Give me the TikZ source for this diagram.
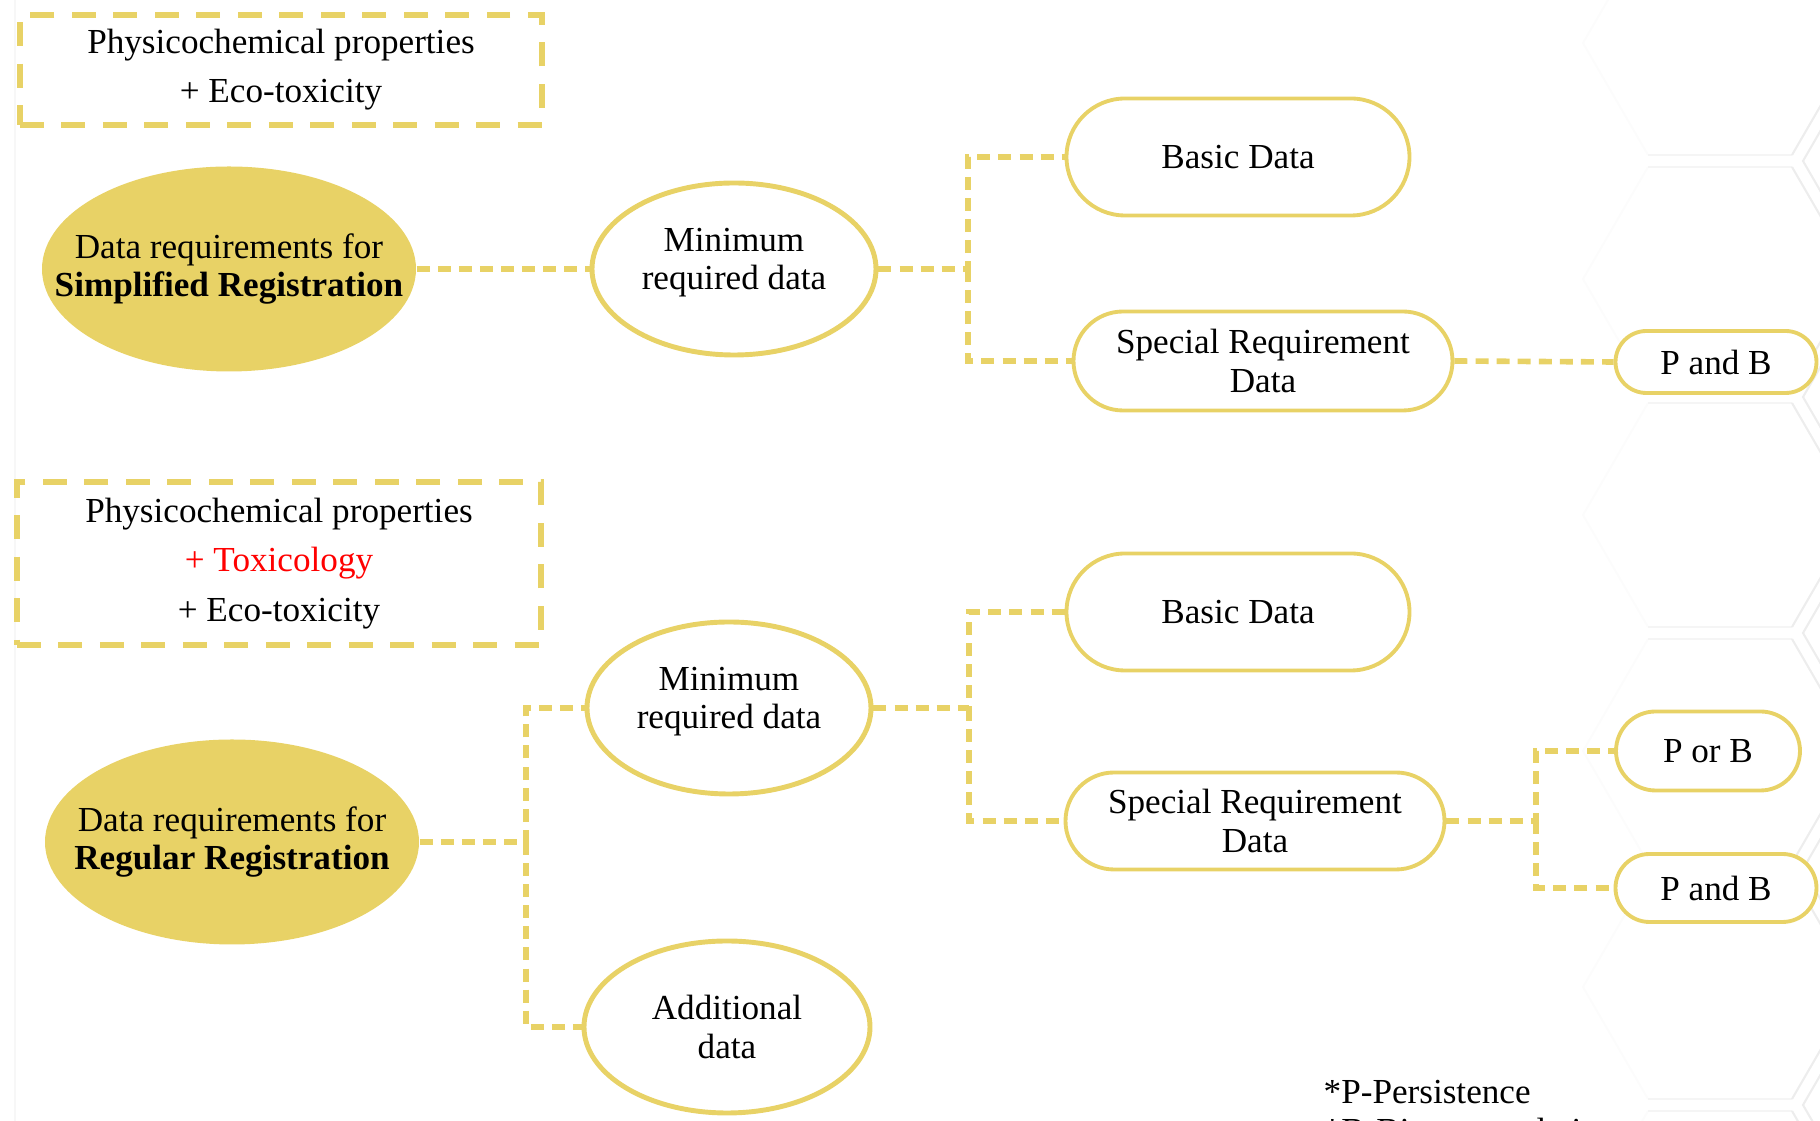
\documentclass[tikz,border=0pt]{standalone}
\usepackage{fontspec}
\setmainfont{Liberation Serif}
\usetikzlibrary{shapes.geometric,shapes.misc}
\definecolor{regyellow}{RGB}{232,210,102}

\begin{document}
\begin{tikzpicture}[
    font=\fontsize{10pt}{11pt}\selectfont,
    regnode/.style={ellipse,fill=regyellow,inner xsep=-0.5cm,inner ysep=0pt,align=center,
      minimum width=3.74cm,minimum height=2.05cm},
    dataoval/.style={ellipse,draw=regyellow,line width=1.4pt,fill=white,
      inner sep=0pt,align=center,minimum width=2.84cm,minimum height=1.72cm},
    pill/.style={rounded rectangle,draw=regyellow,line width=1.1pt,fill=white,
      inner sep=0pt,align=center},
    notebox/.style={draw=regyellow,line width=1.7pt,dash pattern=on 6.8pt off 5pt,
      inner sep=0pt,align=center,font=\fontsize{10pt}{14pt}\selectfont},
    link/.style={draw=regyellow,line width=1.6pt,dash pattern=on 3.7pt off 2.3pt},
    hexline/.style={line width=0.6pt}
  ]
    % Page
    \useasboundingbox (0,0) rectangle (18.2,-11.21);
    \draw[gray!6] (0.15,0) -- (0.15,-11.21);

    % Hexagon background
    \foreach \cy in {0.43,2.79,5.15,7.51,9.87,12.23} {
      \draw[hexline,gray!2] (16.48,-\cy+1.12) -- ++(-0.65,-1.12) -- ++(0.65,-1.12);
      \draw[hexline,gray!8] (16.48,-\cy+1.12) -- ++(1.44,0);
      \draw[hexline,gray!8] (16.48,-\cy-1.12) -- ++(1.44,0);
      \draw[hexline,gray!14] (17.92,-\cy+1.12) -- ++(0.65,-1.12) -- ++(-0.65,-1.12);
    }
    \foreach \cy in {-0.75,1.61,3.97,6.33,8.69,11.05} {
      \draw[hexline,gray!14] (18.68,-\cy+1.12) -- ++(-0.65,-1.12) -- ++(0.65,-1.12);
    }

    % Upper branch
    \node[notebox,minimum width=5.22cm,minimum height=1.10cm] (propsA) at (2.81,-0.70)
      {Physicochemical properties\\+ Eco-toxicity};
    \node[regnode] (regA) at (2.29,-2.69)
      {Data requirements for\\\textbf{Simplified Registration}};
    \node[dataoval,text depth=0.2cm] (minA) at (7.34,-2.69) {Minimum\\required data};
    \node[pill,minimum width=3.43cm,minimum height=1.17cm] (basicA) at (12.38,-1.57) {Basic Data};
    \node[pill,minimum width=3.79cm,minimum height=0.99cm] (specA) at (12.63,-3.61)
      {Special Requirement\\Data};
    \node[pill,minimum width=2.01cm,minimum height=0.62cm] (pbA) at (17.16,-3.62) {P and B};

    % Lower branch
    \node[notebox,minimum width=5.24cm,minimum height=1.63cm] (propsB) at (2.79,-5.635)
      {Physicochemical properties\\\textcolor{red}{+ Toxicology}\\+ Eco-toxicity};
    \node[regnode] (regB) at (2.32,-8.42)
      {Data requirements for\\\textbf{Regular Registration}};
    \node[dataoval,text depth=0.2cm] (minB) at (7.29,-7.08) {Minimum\\required data};
    \node[dataoval,minimum width=2.86cm] (addB) at (7.27,-10.27) {Additional\\data};
    \node[pill,minimum width=3.43cm,minimum height=1.17cm] (basicB) at (12.38,-6.12) {Basic Data};
    \node[pill,minimum width=3.79cm,minimum height=0.97cm] (specB) at (12.55,-8.21)
      {Special Requirement\\Data};
    \node[pill,minimum width=1.84cm,minimum height=0.79cm] (porB) at (17.08,-7.51) {P or B};
    \node[pill,minimum width=2.01cm,minimum height=0.68cm] (pbB) at (17.16,-8.88) {P and B};

    % Junctions
    \coordinate (jA) at (9.68,-2.69);
    \coordinate (jB) at (5.26,-8.42);
    \coordinate (jC) at (9.69,-7.08);
    \coordinate (jD) at (15.36,-8.21);

    % Connectors
    \draw[link] (regA.east) -- (minA.west);
    \draw[link] (minA.east) -- (jA) |- (basicA.west);
    \draw[link] (jA) |- (specA.west);
    \draw[link] (specA.east) -- (pbA.west);
    \draw[link] (regB.east) -- (jB) |- (minB.west);
    \draw[link] (jB) |- (addB.west);
    \draw[link] (minB.east) -- (jC) |- (basicB.west);
    \draw[link] (jC) |- (specB.west);
    \draw[link] (specB.east) -- (jD) |- (porB.west);
    \draw[link] (jD) |- (pbB.west);

    % Footnote
    \node[anchor=north west,align=left,inner sep=0pt] (note) at (13.23,-10.80)
      {*P-Persistence\\*B-Bioaccumulation};
  \end{tikzpicture}
\end{document}
